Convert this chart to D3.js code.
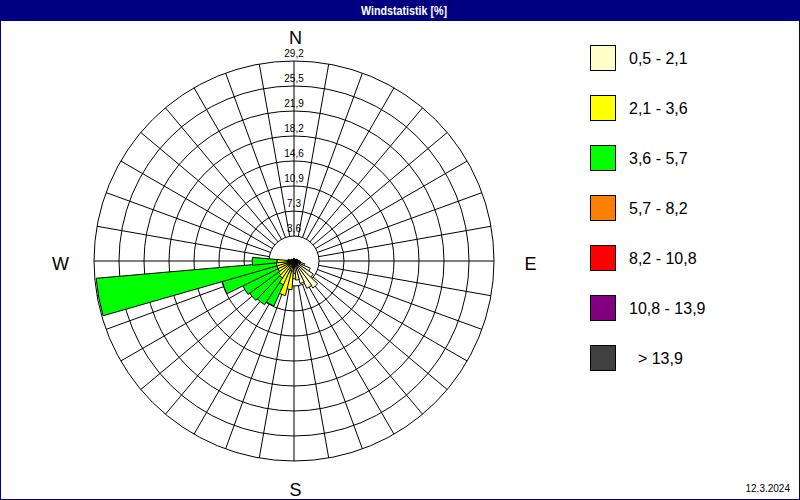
<!DOCTYPE html>
<html lang="de">
<head>
<meta charset="UTF-8">
<title>Windstatistik</title>
<script src="https://d3js.org/d3.v7.min.js"></script>
<style>
  body { margin: 0; background: #fff; }
  svg { display: block; font-family: "Liberation Sans", Arial, sans-serif; }
</style>
</head>
<body>
<svg width="800" height="500"></svg>
<script>
// wind directions (deg), one sector every 10 degrees
const directions = d3.range(0, 360, 10);

// frequency per speed class and direction [%]
const class1 = [0.4, 0.3, 0.3, 0.3, 0.3, 0.4, 0.5, 0.5, 0.6, 0.8, 1.0, 1.6,
                2.6, 3.4, 4.8, 4.4, 3.4, 2.8, 1.8, 1.5, 1.5, 1.2, 1.0, 1.0,
                1.0, 1.0, 1.0, 1.0, 0.6, 0.5, 0.4, 0.4, 0.3, 0.3, 0.3, 0.4];
const class2 = [0, 0, 0, 0, 0, 0, 0, 0, 0, 0, 0, 0,
                0, 0, 0, 0, 0, 0, 0.8, 2.7, 3.7, 2.6, 2.0, 1.8,
                1.6, 1.6, 1.6, 1.5, 0.3, 0, 0, 0, 0, 0, 0, 0];
const class3 = [0, 0, 0, 0, 0, 0, 0, 0, 0, 0, 0, 0,
                0, 0, 0, 0, 0, 0, 0, 0, 0, 3.4, 4.7, 5.2,
                5.7, 8.3, 26.4, 3.6, 0, 0, 0, 0, 0, 0, 0, 0];
const class4 = directions.map(() => 0);
const class5 = directions.map(() => 0);
const class6 = directions.map(() => 0);
const class7 = directions.map(() => 0);

const classLabels = ["0,5 - 2,1", "2,1 - 3,6", "3,6 - 5,7", "5,7 - 8,2",
                     "8,2 - 10,8", "10,8 - 13,9", "  > 13,9"];
const classColors = ["#ffffcc", "#ffff00", "#00ff00", "#ff8000",
                     "#ff0000", "#800080", "#404040"];

const ringValues = [3.65, 7.3, 10.95, 14.6, 18.25, 21.9, 25.55, 29.2];
const ringLabels = ["3,6", "7,3", "10,9", "14,6", "18,2", "21,9", "25,5", "29,2"];
const compass = [["N", 0], ["E", 90], ["S", 180], ["W", 270]];

const svg = d3.select("svg");
const W = 800, H = 500;
const cx = 294, cy = 261, R = 200;

// frame + title bar
svg.append("rect").attr("x", 0.5).attr("y", 0.5).attr("width", W - 1).attr("height", H - 1)
    .attr("fill", "#ffffff").attr("stroke", "#000080");
svg.append("rect").attr("x", 0).attr("y", 0).attr("width", W).attr("height", 21)
    .attr("fill", "#000080");
svg.append("text")
    .attr("x", 404).attr("y", 15)
    .attr("text-anchor", "middle")
    .attr("fill", "#ffffff")
    .attr("font-size", 12).attr("font-weight", "bold")
    .attr("textLength", 86).attr("lengthAdjust", "spacingAndGlyphs")
    .text("Windstatistik [%]");

const r = d3.scaleLinear().domain([0, 29.2]).range([0, R]);
const deg = Math.PI / 180;

const g = svg.append("g").attr("transform", `translate(${cx},${cy})`);

// grid: spokes outside the calm circle, then rings
g.selectAll("line.spoke")
    .data(directions)
    .join("line")
    .attr("class", "spoke")
    .attr("x1", d => r(ringValues[0]) * Math.sin(d * deg))
    .attr("y1", d => -r(ringValues[0]) * Math.cos(d * deg))
    .attr("x2", d => R * Math.sin(d * deg))
    .attr("y2", d => -R * Math.cos(d * deg))
    .attr("stroke", "#000").attr("stroke-width", 1);

g.selectAll("circle.ring")
    .data(ringValues)
    .join("circle")
    .attr("class", "ring")
    .attr("r", d => r(d))
    .attr("fill", "none")
    .attr("stroke", "#000").attr("stroke-width", 1);

// stacked petals
const classes = [class1, class2, class3, class4, class5, class6, class7];
const arc = d3.arc();
const segs = [];
directions.forEach((dir, i) => {
    let cum = 0;
    classes.forEach((vals, k) => {
        const v = vals[i];
        if (v > 0) {
            segs.push({ dir, k, inner: cum, outer: cum + v });
            cum += v;
        }
    });
});

// petals come out a bit wider than 10 deg in the original
g.selectAll("path.petal")
    .data(segs)
    .join("path")
    .attr("class", "petal")
    .attr("d", d => arc({
        innerRadius: r(d.inner),
        outerRadius: r(d.outer),
        startAngle: (d.dir - 6) * deg,
        endAngle: (d.dir + 5) * deg
    }))
    .attr("fill", d => classColors[d.k])
    .attr("stroke", "#000").attr("stroke-width", 1)
    .attr("stroke-linejoin", "miter");

// ring labels along the north spoke
g.selectAll("text.ringlab")
    .data(ringValues)
    .join("text")
    .attr("class", "ringlab")
    .attr("x", 0)
    .attr("y", (d, i) => -r(d) - 4)
    .attr("text-anchor", "middle")
    .attr("font-size", 10)
    .attr("fill", "#000")
    .text((d, i) => ringLabels[i]);

// compass letters
g.selectAll("text.comp")
    .data(compass)
    .join("text")
    .attr("class", "comp")
    .attr("x", d => (R + 35) * Math.sin(d[1] * deg) + 1.5)
    .attr("y", d => -(R + 26) * Math.cos(d[1] * deg) + 9)
    .attr("text-anchor", "middle")
    .attr("font-size", 18)
    .attr("fill", "#000")
    .text(d => d[0]);

// legend
const leg = svg.append("g").attr("transform", "translate(590,45)");
const item = leg.selectAll("g")
    .data(classLabels)
    .join("g")
    .attr("transform", (d, i) => `translate(0,${i * 50})`);
item.append("rect")
    .attr("x", 0.5).attr("y", 0.5)
    .attr("width", 25).attr("height", 25)
    .attr("fill", (d, i) => classColors[i])
    .attr("stroke", "#000");
item.append("text")
    .attr("x", 39).attr("y", 19)
    .attr("font-size", 16)
    .attr("fill", "#000")
    .style("white-space", "pre")
    .text(d => d);

// date stamp
svg.append("text")
    .attr("x", 790).attr("y", 492)
    .attr("text-anchor", "end")
    .attr("font-size", 10)
    .attr("fill", "#000")
    .text("12.3.2024");
</script>
</body>
</html>
